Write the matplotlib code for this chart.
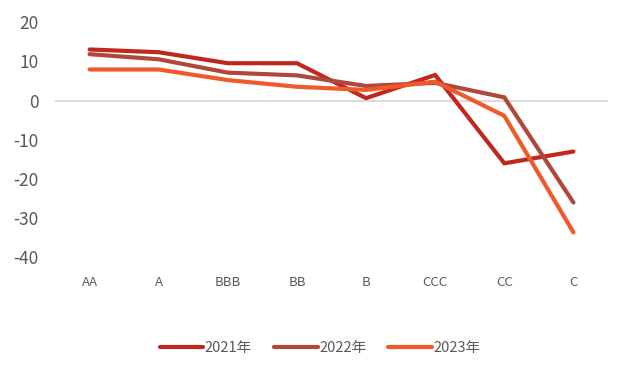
import matplotlib
matplotlib.use("Agg")
import matplotlib.pyplot as plt
import numpy as np

plt.rcParams["font.family"] = ["Noto Sans CJK SC", "DejaVu Sans"]
plt.rcParams["axes.unicode_minus"] = False

# 评级类别与各年数值
ratings = ["AA", "A", "BBB", "BB", "B", "CCC", "CC", "C"]
y2021 = [13.0, 12.3, 9.5, 9.5, 0.6, 6.5, -16.0, -13.0]
y2022 = [11.8, 10.5, 7.1, 6.4, 3.7, 4.5, 0.8, -26.0]
y2023 = [7.9, 7.9, 5.2, 3.5, 2.7, 4.8, -3.9, -33.6]
series_names = ["2021年", "2022年", "2023年"]
colors = ["#C0281E", "#B0473A", "#F05A2A"]
yticks = [-40, -30, -20, -10, 0, 10, 20]

W, H = 633, 376
fig = plt.figure(figsize=(W / 100, H / 100), dpi=100)
ax = fig.add_axes([55 / W, 1 - 257.5 / H, 553 / W, 235.5 / H])

x = np.arange(len(ratings))
for vals, name, c in zip([y2021, y2022, y2023], series_names, colors):
    ax.plot(x, vals, color=c, lw=3, label=name,
            solid_joinstyle="miter", solid_capstyle="round")

ax.axhline(0, color="#D9D9D9", lw=1.3, zorder=0)

ax.set_xlim(-0.5, len(ratings) - 0.5)
ax.set_ylim(-40, 20)
ax.set_yticks(yticks)
ax.set_xticks(x)
ax.set_xticklabels(ratings)

for s in ax.spines.values():
    s.set_visible(False)
ax.tick_params(axis="y", length=0, labelsize=12.5, labelcolor="#595959", pad=12)
ax.tick_params(axis="x", length=0, labelsize=9.5, labelcolor="#595959", pad=13)

ax.legend(loc="center", bbox_to_anchor=(320 / W, 1 - 348 / H),
          bbox_transform=fig.transFigure, ncol=3, frameon=False,
          fontsize=10.5, handlelength=3.0, handletextpad=0.1,
          columnspacing=1.5, labelcolor="#595959")

fig.savefig("out.png", dpi=100)
